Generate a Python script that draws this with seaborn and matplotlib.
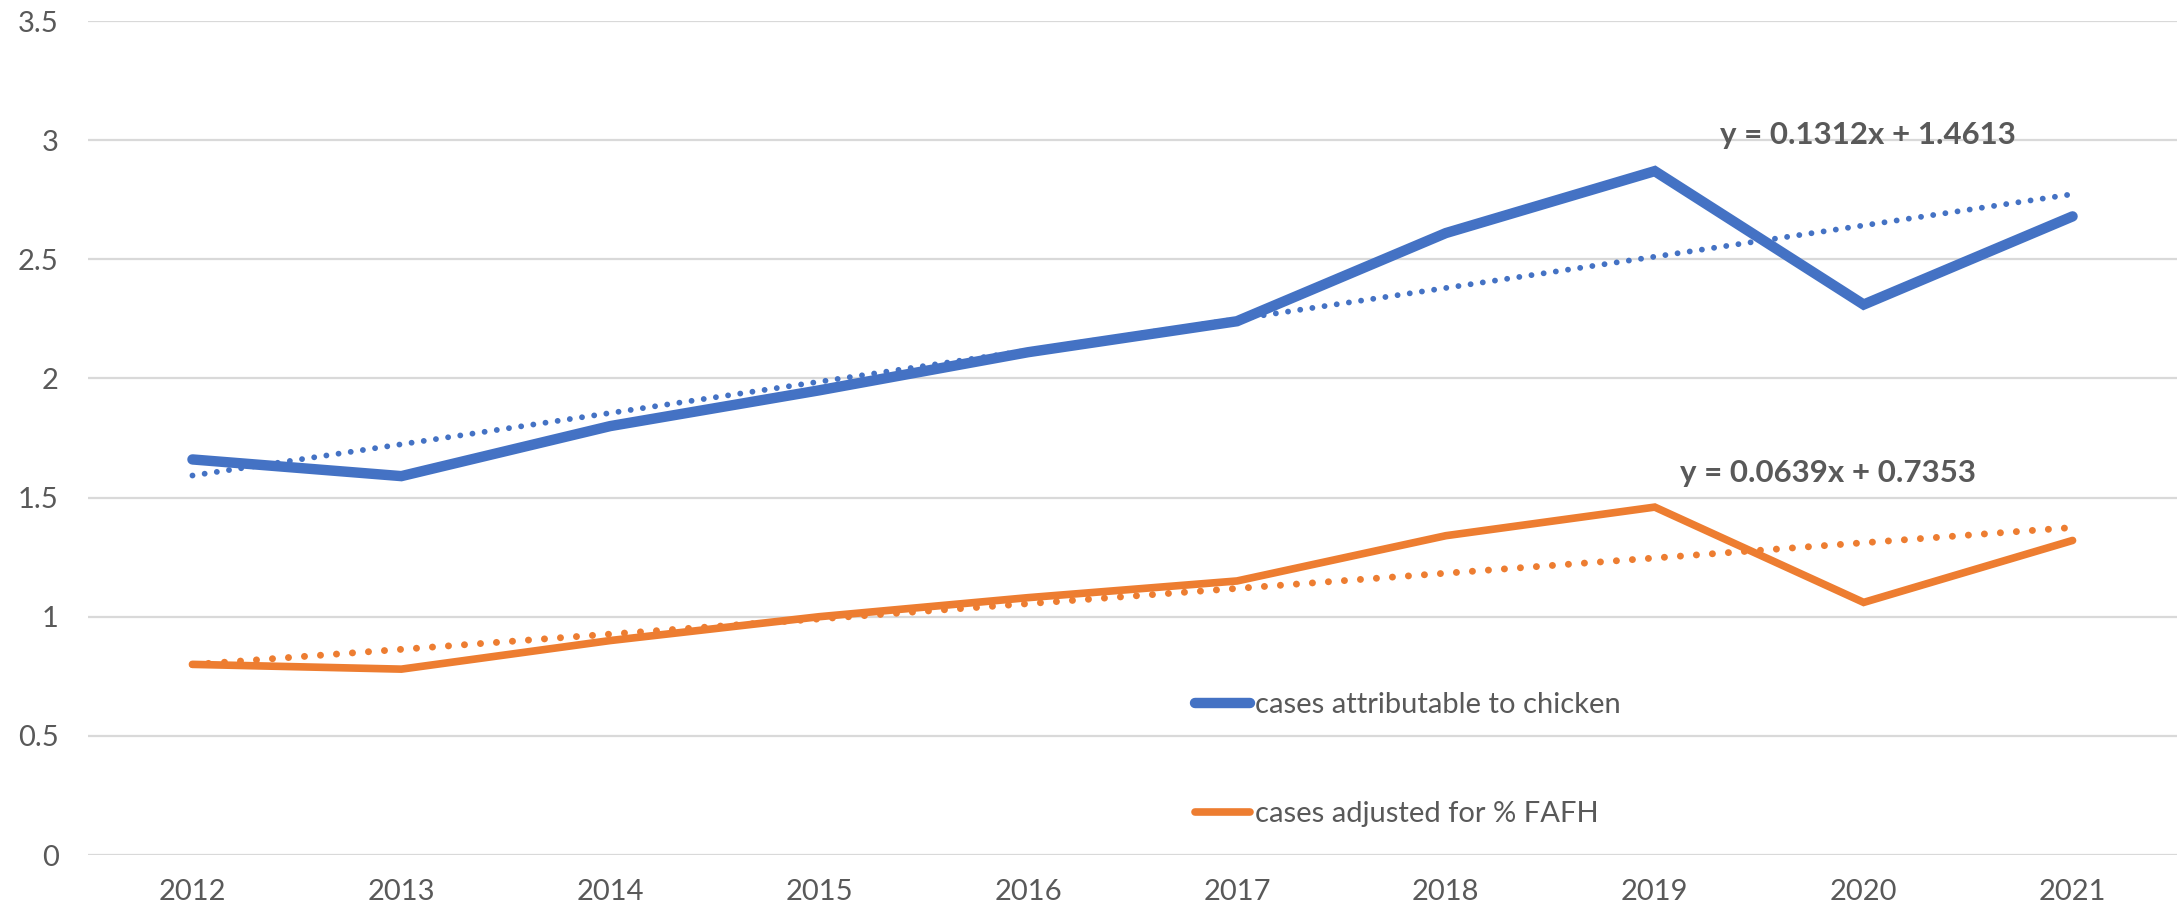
import matplotlib
matplotlib.use("Agg")
import matplotlib.pyplot as plt
import numpy as np
import pandas as pd
import seaborn as sns

# Yearly case estimates
years = [2012, 2013, 2014, 2015, 2016, 2017, 2018, 2019, 2020, 2021]
chicken_cases = [1.66, 1.59, 1.80, 1.95, 2.11, 2.24, 2.61, 2.87, 2.31, 2.68]
fafh_cases = [0.80, 0.78, 0.90, 1.00, 1.08, 1.15, 1.34, 1.46, 1.06, 1.32]

# Linear trend coefficients (x = 1..10 over the years)
chicken_trend = [0.1312, 1.4613]
fafh_trend = [0.0639, 0.7353]

series_labels = ["cases attributable to chicken", "cases adjusted for % FAFH"]
y_ticks = [0, 0.5, 1, 1.5, 2, 2.5, 3, 3.5]

BLUE = "#4472C4"
ORANGE = "#ED7D31"
TEXT = "#595959"
GRID = "#D9D9D9"

sns.set_theme(style="white")
plt.rcParams["font.family"] = ["Lato", "DejaVu Sans"]

df = pd.DataFrame({"year": years, "chicken": chicken_cases, "fafh": fafh_cases})
idx = np.arange(1, len(years) + 1)
df["chicken_fit"] = chicken_trend[0] * idx + chicken_trend[1]
df["fafh_fit"] = fafh_trend[0] * idx + fafh_trend[1]

fig = plt.figure(figsize=(21.81, 9.10), dpi=100)
ax = fig.add_axes([88 / 2181, 1 - 855 / 910, (2177 - 88) / 2181, (855 - 21) / 910])

sns.lineplot(data=df, x="year", y="chicken", ax=ax, color=BLUE, lw=7.5,
             solid_capstyle="round", solid_joinstyle="miter", legend=False, zorder=3)
sns.lineplot(data=df, x="year", y="fafh", ax=ax, color=ORANGE, lw=5.5,
             solid_capstyle="round", solid_joinstyle="miter", legend=False, zorder=3)
sns.lineplot(data=df, x="year", y="chicken_fit", ax=ax, color=BLUE, lw=4.2,
             linestyle=(0, (0.01, 2.1)), dash_capstyle="round", legend=False, zorder=4)
sns.lineplot(data=df, x="year", y="fafh_fit", ax=ax, color=ORANGE, lw=5.0,
             linestyle=(0, (0.01, 2.3)), dash_capstyle="round", legend=False, zorder=4)

ax.set_xlim(years[0] - 0.5, years[-1] + 0.5)
ax.set_ylim(y_ticks[0], y_ticks[-1])
ax.set_xticks(years)
ax.set_xticklabels([str(y) for y in years])
ax.set_yticks(y_ticks)
ax.set_yticklabels([f"{v:g}" for v in y_ticks])
ax.set_xlabel("")
ax.set_ylabel("")

ax.yaxis.grid(True, color=GRID, lw=1.6)
ax.xaxis.grid(False)
ax.set_axisbelow(True)
for s in ax.spines.values():
    s.set_visible(False)
ax.tick_params(axis="both", length=0, labelsize=21, labelcolor=TEXT)
ax.tick_params(axis="y", pad=21)
ax.tick_params(axis="x", pad=17)

# Trend equations
ax.text(2020.02, 3.03, f"y = {chicken_trend[0]}x + {chicken_trend[1]}", ha="center",
        va="center_baseline", fontsize=22.5, fontweight="bold", color=TEXT)
ax.text(2019.83, 1.613, f"y = {fafh_trend[0]}x + {fafh_trend[1]}", ha="center",
        va="center_baseline", fontsize=22.5, fontweight="bold", color=TEXT)

leg_handles = [plt.Line2D([], [], color=BLUE, lw=7.5, solid_capstyle="round"),
               plt.Line2D([], [], color=ORANGE, lw=5.5, solid_capstyle="round")]
fig.legend(leg_handles, series_labels, loc="upper left",
           bbox_to_anchor=(1195 / 2181, 1 - 692 / 910), frameon=False,
           fontsize=21, labelcolor=TEXT, handlelength=1.9, handletextpad=0.15,
           labelspacing=2.85, borderpad=0, borderaxespad=0)

fig.savefig("out.png", dpi=100, facecolor="white")
